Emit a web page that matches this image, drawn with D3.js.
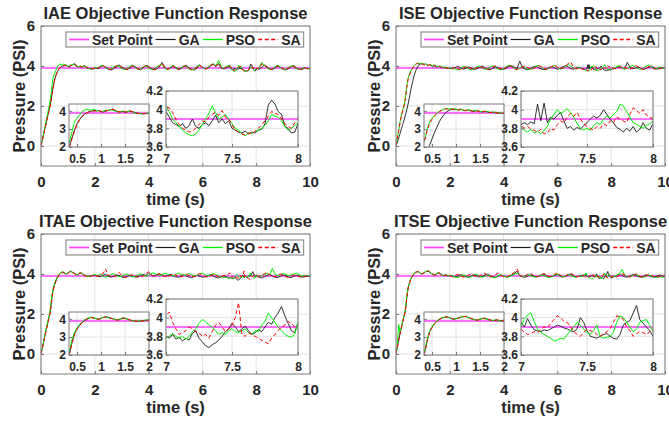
<!DOCTYPE html>
<html>
<head>
<meta charset="utf-8">
<script src="https://cdn.jsdelivr.net/npm/d3@7"></script>
<style>
body { margin: 0; background: #fff; }
svg { display: block; }
text { font-family: "Liberation Sans", Arial, Helvetica, sans-serif; font-weight: bold; fill: #262626; }
</style>
</head>
<body>
<div id="chart"></div>
<script>
//sample times: 0-2 s every 0.05, 2-7 s every 0.1, 7-8 s every 0.025, 8-10 s every 0.1
var time = [].concat(
  d3.range(0, 41).map(function(i) { return i * 0.05; }),
  d3.range(1, 50).map(function(i) { return 2 + i * 0.1; }),
  d3.range(0, 41).map(function(i) { return 7 + i * 0.025; }),
  d3.range(1, 21).map(function(i) { return 8 + i * 0.1; })
);

var setPoint = 3.9;
var titles = ["IAE Objective Function Response", "ISE Objective Function Response",
              "ITAE Objective Function Response", "ITSE Objective Function Response"];
var seriesNames = ["Set Point", "GA", "PSO", "SA"];

var mainXTicks = [0, 2, 4, 6, 8, 10];
var mainYTicks = [0, 2, 4, 6];
var zoom1XTicks = [0.5, 1, 1.5, 2];
var zoom1YTicks = [2, 3, 4];
var zoom2XTicks = [7, 7.5, 8];
var zoom2YTicks = [3.6, 3.8, 4, 4.2];

//---------------- IAE ----------------
var iaeGA = [
  0.00, 0.30, 0.60, 0.90, 1.20, 1.50, 1.80, 2.10, 2.55, 2.95,
  3.30, 3.52, 3.70, 3.82, 3.90, 3.97, 4.00, 4.03, 4.01, 4.04,
  3.98, 3.95, 4.00, 4.05, 4.08, 4.12, 4.03, 3.98, 3.95, 3.99,
  3.93, 3.97, 4.02, 3.98, 3.93, 3.90, 3.87, 3.85, 3.87, 3.86,
  3.90,
  3.86, 3.93, 4.02, 3.95, 3.85, 3.80, 3.86, 3.96, 4.06, 3.95,
  3.88, 3.82, 3.90, 3.99, 3.96, 3.86, 3.80, 3.90, 4.04, 3.97,
  3.88, 3.81, 3.85, 3.96, 4.18, 3.93, 3.84, 3.88, 3.98, 3.91,
  3.82, 3.86, 3.97, 4.02, 3.91, 3.83, 3.80, 3.90, 4.03, 3.95,
  3.85, 3.88, 4.00, 4.08, 3.97, 4.12, 3.90, 3.85, 3.92,
  3.98, 3.92, 3.86, 3.84, 3.82, 3.85, 3.80, 3.83, 3.90, 3.82,
  3.80, 3.84, 3.86, 3.83, 3.88, 3.94, 3.86, 3.90, 3.85, 3.88,
  3.80, 3.78, 3.76, 3.75, 3.77, 3.74, 3.76, 3.75, 3.78, 3.79,
  3.85, 4.05, 4.10, 4.06, 3.98, 3.95, 3.82, 3.80, 3.75, 3.76,
  3.85,
  3.85, 3.92, 4.05, 3.96, 3.86, 3.82, 3.90, 4.00, 3.94, 3.84,
  3.80, 3.87, 3.97, 4.02, 3.90, 3.84, 3.82, 3.90, 3.88, 3.86
];
var iaePSO = [
  0.00, 0.33, 0.66, 0.99, 1.32, 1.65, 1.98, 2.35, 2.90, 3.45,
  3.60, 3.78, 3.95, 4.05, 4.10, 4.08, 4.06, 4.10, 4.05, 4.02,
  3.97, 4.00, 4.06, 4.03, 4.10, 4.05, 4.00, 3.96, 3.94, 4.02,
  3.97, 3.95, 4.00, 3.95, 3.90, 3.86, 3.88, 3.84, 3.86, 3.88,
  3.92,
  3.90, 3.98, 4.05, 3.90, 3.83, 3.86, 3.95, 4.02, 3.97, 3.87,
  3.82, 3.88, 3.98, 4.05, 3.92, 3.84, 3.87, 3.96, 4.00, 3.90,
  3.83, 3.86, 3.95, 4.03, 4.10, 3.88, 3.82, 3.92, 4.03, 3.95,
  3.86, 3.90, 4.00, 3.96, 3.85, 3.80, 3.87, 3.98, 4.06, 3.92,
  3.86, 3.93, 4.04, 4.12, 4.00, 4.28, 3.95, 3.88, 3.98,
  4.04, 3.98, 3.90, 3.86, 3.82, 3.78, 3.75, 3.73, 3.72, 3.74,
  3.78, 3.84, 3.90, 3.96, 4.04, 3.97, 3.90, 3.92, 3.95, 3.90,
  3.85, 3.80, 3.78, 3.74, 3.72, 3.75, 3.74, 3.77, 3.78, 3.80,
  3.83, 3.88, 3.95, 3.93, 3.92, 3.88, 3.82, 3.78, 3.80, 3.83,
  3.86,
  3.88, 4.18, 4.02, 3.90, 3.83, 3.86, 3.96, 4.05, 3.92, 3.85,
  3.84, 3.92, 4.00, 3.95, 3.86, 3.82, 3.88, 3.93, 3.85, 3.88
];
var iaeSA = [
  0.00, 0.28, 0.58, 0.88, 1.18, 1.48, 1.78, 2.05, 2.50, 2.90,
  3.25, 3.50, 3.68, 3.80, 3.90, 3.96, 4.02, 4.00, 4.04, 4.02,
  3.97, 3.96, 4.02, 4.04, 4.07, 4.10, 4.02, 3.97, 3.96, 4.00,
  3.95, 3.96, 4.01, 3.97, 3.92, 3.88, 3.86, 3.86, 3.85, 3.87,
  3.90,
  3.88, 3.96, 4.04, 3.93, 3.84, 3.82, 3.90, 4.00, 4.04, 3.92,
  3.85, 3.84, 3.93, 4.02, 3.94, 3.85, 3.83, 3.93, 4.06, 3.95,
  3.85, 3.83, 3.88, 3.99, 4.14, 3.91, 3.83, 3.90, 4.01, 3.93,
  3.84, 3.88, 3.99, 4.00, 3.89, 3.82, 3.83, 3.94, 4.05, 3.94,
  3.84, 3.90, 4.02, 4.10, 3.98, 4.15, 3.93, 3.86, 3.95,
  4.03, 4.02, 3.97, 3.90, 3.84, 3.80, 3.78, 3.76, 3.77, 3.80,
  3.84, 3.88, 3.87, 3.92, 3.95, 3.97, 3.94, 3.99, 3.92, 3.90,
  3.84, 3.78, 3.76, 3.74, 3.73, 3.75, 3.74, 3.77, 3.80, 3.84,
  3.88, 3.93, 3.98, 3.96, 3.95, 3.90, 3.85, 3.82, 3.80, 3.86,
  3.90,
  3.86, 4.10, 4.08, 3.92, 3.84, 3.84, 3.93, 4.02, 3.93, 3.84,
  3.82, 3.90, 3.98, 3.98, 3.88, 3.83, 3.85, 3.92, 3.86, 3.87
];

//---------------- ISE ----------------
var iseGA = [
  0.00, 0.18, 0.40, 0.62, 0.85, 1.08, 1.30, 1.55, 1.80, 2.10,
  2.45, 2.80, 3.10, 3.40, 3.62, 3.82, 3.95, 4.04, 4.10, 4.12,
  4.10, 4.08, 4.12, 4.05, 4.02, 4.07, 4.03, 3.97, 4.01, 4.04,
  3.98, 3.95, 4.00, 3.96, 3.92, 3.95, 3.90, 3.93, 3.89, 3.87,
  3.90,
  3.86, 3.92, 3.98, 3.90, 3.84, 3.88, 3.95, 3.90, 3.83, 3.86,
  3.93, 3.99, 3.92, 3.85, 3.82, 3.88, 3.96, 3.92, 3.86, 3.83,
  3.90, 3.98, 4.02, 3.94, 3.87, 4.25, 3.92, 3.85, 3.82, 3.88,
  3.95, 3.99, 3.91, 3.85, 3.82, 3.86, 3.93, 3.97, 3.90, 3.84,
  3.88, 3.96, 4.02, 3.95, 3.86, 3.84, 3.90, 3.94, 3.88,
  3.84, 3.86, 3.84, 3.87, 3.85, 4.06, 3.88, 4.07, 3.86, 3.92,
  3.90, 3.94, 3.97, 3.88, 3.80, 3.82, 3.78, 3.81, 3.79, 3.83,
  3.86, 3.90, 3.93, 3.91, 3.94, 4.00, 3.95, 3.90, 3.86, 3.81,
  3.79, 3.76, 3.80, 3.77, 3.82, 3.76, 3.79, 3.86, 3.80, 3.78,
  3.85,
  3.86, 3.92, 3.97, 3.90, 3.84, 4.18, 3.92, 3.86, 3.90, 3.96,
  3.88, 3.83, 3.87, 3.94, 3.99, 3.90, 3.85, 3.88, 3.92, 3.87
];
var isePSO = [
  0.00, 0.40, 0.80, 1.20, 1.55, 1.80, 2.05, 2.45, 3.00, 3.40,
  3.60, 3.75, 3.88, 3.98, 4.06, 4.12, 4.15, 4.12, 4.14, 4.10,
  4.12, 4.08, 4.11, 4.06, 4.03, 4.08, 4.05, 4.00, 4.06, 4.02,
  3.96, 4.00, 3.95, 3.99, 3.94, 3.92, 3.96, 3.90, 3.92, 3.88,
  3.91,
  3.90, 3.85, 3.80, 3.88, 3.98, 3.93, 3.84, 3.80, 3.87, 3.96,
  4.00, 3.90, 3.83, 3.86, 3.95, 4.02, 3.92, 3.84, 3.80, 3.88,
  3.97, 4.05, 3.96, 3.88, 3.84, 3.90, 3.98, 3.93, 3.85, 3.82,
  3.90, 3.99, 4.04, 3.94, 3.86, 3.83, 3.90, 3.97, 4.02, 3.92,
  3.85, 3.88, 3.96, 4.08, 3.98, 3.90, 3.86, 3.92, 3.87,
  3.82, 3.78, 3.76, 3.79, 3.75, 3.77, 3.74, 3.78, 3.82, 3.90,
  3.95, 4.00, 3.96, 3.98, 4.01, 3.97, 3.92, 3.85, 3.80, 3.78,
  3.80, 3.78, 3.83, 3.86, 3.84, 3.90, 3.93, 3.91, 3.95, 3.98,
  4.06, 4.04, 3.98, 3.92, 3.86, 3.84, 3.82, 3.80, 3.83, 3.85,
  3.88,
  3.90, 3.96, 4.02, 3.92, 3.85, 3.88, 3.96, 4.04, 3.94, 3.86,
  3.84, 3.92, 3.99, 4.06, 3.93, 3.86, 3.88, 3.95, 3.90, 3.86
];
var iseSA = [
  0.00, 0.38, 0.76, 1.14, 1.50, 1.76, 2.00, 2.38, 2.92, 3.32,
  3.55, 3.72, 3.85, 3.96, 4.04, 4.10, 4.13, 4.10, 4.12, 4.09,
  4.10, 4.06, 4.09, 4.05, 4.04, 4.06, 4.03, 3.99, 4.03, 4.00,
  3.95, 3.98, 3.97, 3.97, 3.92, 3.93, 3.94, 3.89, 3.90, 3.87,
  3.89,
  3.88, 3.94, 3.86, 3.82, 3.90, 3.97, 3.92, 3.85, 3.82, 3.90,
  3.98, 3.94, 3.86, 3.82, 3.88, 3.96, 4.00, 3.90, 3.84, 3.86,
  3.94, 4.04, 3.95, 3.86, 3.82, 3.88, 3.96, 4.00, 3.91, 3.84,
  3.86, 3.94, 4.02, 3.96, 3.87, 3.82, 3.89, 3.98, 4.06, 3.93,
  3.86, 3.90, 4.00, 4.12, 4.20, 3.92, 3.85, 3.90, 3.86,
  3.83, 3.80, 3.82, 3.79, 3.78, 3.76, 3.79, 3.74, 3.75, 3.80,
  3.78, 3.84, 3.88, 3.86, 3.92, 3.96, 3.93, 3.97, 3.90, 3.85,
  3.82, 3.80, 3.78, 3.82, 3.80, 3.85, 3.83, 3.88, 3.86, 3.92,
  3.90, 3.88, 3.86, 3.95, 4.02, 3.99, 3.96, 4.00, 3.94, 3.92,
  3.90,
  3.88, 3.84, 3.92, 4.00, 3.94, 3.86, 3.84, 3.92, 4.02, 3.95,
  3.87, 3.83, 3.90, 3.98, 3.92, 3.85, 3.84, 3.90, 3.88, 3.85
];

//---------------- ITAE ----------------
var itaeGA = [
  0.00, 0.30, 0.62, 0.94, 1.25, 1.55, 1.85, 2.15, 2.75, 3.20,
  3.45, 3.65, 3.80, 3.92, 4.00, 4.06, 4.10, 4.07, 4.02, 4.00,
  4.04, 4.10, 4.14, 4.10, 4.06, 4.03, 3.98, 3.95, 4.00, 4.06,
  4.05, 4.00, 3.95, 3.92, 3.90, 3.88, 3.90, 3.89, 3.92, 3.94,
  3.95,
  3.90, 3.86, 3.94, 3.98, 3.90, 3.84, 3.88, 3.96, 3.92, 3.85,
  3.82, 3.88, 3.95, 3.90, 3.84, 3.86, 3.93, 3.98, 3.92, 4.05,
  3.95, 3.90, 3.97, 4.02, 3.94, 3.88, 3.92, 3.99, 3.93, 3.86,
  3.84, 3.90, 3.96, 3.91, 3.85, 3.82, 3.88, 3.94, 3.90, 3.84,
  3.86, 3.92, 3.97, 3.90, 3.83, 3.80, 3.86, 3.92, 3.85,
  3.80, 3.78, 3.82, 3.77, 3.79, 3.75, 3.78, 3.76, 3.83, 3.86,
  3.78, 3.74, 3.70, 3.68, 3.71, 3.73, 3.76, 3.80, 3.85, 3.88,
  3.94, 3.90, 3.85, 3.88, 3.91, 3.86, 3.82, 3.84, 3.87, 3.85,
  3.90, 3.95, 3.93, 4.00, 4.05, 4.12, 4.02, 3.94, 3.86, 3.84,
  3.95,
  3.84, 3.80, 3.86, 3.93, 3.98, 3.90, 3.84, 3.82, 3.88, 3.95,
  3.92, 3.85, 3.82, 3.88, 3.94, 3.90, 3.84, 3.86, 3.90, 3.88
];
var itaePSO = [
  0.00, 0.32, 0.66, 1.00, 1.32, 1.62, 1.92, 2.30, 2.90, 3.28,
  3.50, 3.70, 3.84, 3.95, 4.02, 4.08, 4.11, 4.08, 4.03, 4.01,
  4.05, 4.11, 4.13, 4.09, 4.05, 4.02, 3.97, 3.96, 4.02, 4.07,
  4.04, 3.98, 3.94, 3.91, 3.89, 3.88, 3.91, 3.90, 3.93, 3.96,
  3.97,
  3.92, 3.98, 3.90, 3.84, 3.88, 3.97, 4.02, 3.93, 3.86, 3.90,
  3.96, 4.00, 3.91, 3.85, 3.88, 3.95, 4.01, 3.94, 3.88, 3.92,
  4.02, 4.06, 3.98, 3.92, 3.96, 4.03, 4.00, 3.93, 3.90, 3.97,
  4.04, 3.98, 3.92, 3.95, 4.02, 3.96, 3.90, 3.93, 4.00, 4.05,
  3.96, 3.91, 3.95, 4.02, 3.97, 3.90, 3.86, 3.84, 3.82,
  3.78, 3.80, 3.83, 3.80, 3.78, 3.80, 3.77, 3.80, 3.85, 3.88,
  3.94, 3.98, 3.96, 3.92, 3.90, 3.86, 3.82, 3.84, 3.82, 3.86,
  3.88, 3.85, 3.84, 3.86, 3.88, 3.84, 3.82, 3.86, 3.85, 3.92,
  3.96, 4.05, 4.00, 3.95, 3.90, 3.86, 3.82, 3.80, 3.79, 3.82,
  3.95,
  3.86, 3.92, 3.98, 4.02, 3.95, 4.28, 4.00, 3.92, 3.96, 4.02,
  3.98, 3.92, 3.95, 4.00, 4.04, 3.96, 3.90, 3.94, 3.92, 3.90
];
var itaeSA = [
  0.00, 0.29, 0.60, 0.92, 1.22, 1.52, 1.82, 2.12, 2.70, 3.15,
  3.42, 3.63, 3.79, 3.91, 3.99, 4.05, 4.09, 4.06, 4.02, 3.99,
  4.03, 4.09, 4.13, 4.11, 4.05, 4.02, 3.97, 3.94, 3.99, 4.05,
  4.05, 4.01, 3.96, 3.91, 3.89, 3.87, 3.89, 3.90, 3.91, 3.93,
  3.94,
  3.88, 3.94, 4.02, 4.25, 3.95, 3.86, 3.84, 3.92, 4.08, 3.94,
  3.86, 3.83, 3.90, 3.98, 3.92, 3.85, 3.84, 3.92, 4.00, 4.12,
  3.96, 3.88, 3.92, 4.00, 3.95, 3.88, 3.86, 3.93, 4.02, 3.96,
  3.88, 3.85, 3.92, 3.98, 3.92, 3.86, 3.88, 3.95, 4.02, 3.94,
  3.87, 3.84, 3.90, 3.98, 3.93, 3.86, 3.84, 3.92, 3.96,
  4.02, 4.06, 3.95, 3.88, 3.82, 3.84, 3.86, 3.90, 3.88, 3.85,
  3.84, 3.80, 3.82, 3.78, 3.85, 3.92, 3.95, 3.90, 3.85, 3.88,
  3.92, 4.00, 4.16, 3.82, 3.80, 3.84, 3.82, 3.80, 3.78, 3.76,
  3.74, 3.72, 3.78, 3.82, 3.86, 3.90, 3.92, 3.96, 3.94, 3.90,
  3.90,
  3.88, 3.94, 4.00, 4.10, 3.95, 3.88, 3.86, 3.94, 4.00, 3.93,
  3.86, 3.84, 3.90, 3.96, 3.92, 3.86, 3.84, 3.88, 3.92, 3.86
];

//---------------- ITSE ----------------
var itseGA = [
  0.00, 0.35, 0.70, 1.02, 1.33, 1.62, 1.90, 2.18, 2.80, 3.30,
  3.55, 3.75, 3.88, 3.98, 4.06, 4.10, 4.12, 4.10, 4.04, 4.00,
  4.02, 4.07, 4.11, 4.14, 4.15, 4.10, 4.05, 4.00, 3.96, 3.95,
  3.99, 4.04, 4.05, 4.00, 3.96, 3.92, 3.93, 3.95, 3.92, 3.90,
  3.92,
  3.88, 3.84, 3.90, 3.97, 3.92, 3.86, 3.84, 3.90, 3.96, 3.91,
  3.85, 3.88, 3.95, 3.99, 3.92, 3.86, 3.83, 3.89, 3.95, 3.90,
  3.85, 3.88, 3.96, 4.02, 4.14, 3.93, 3.86, 3.84, 3.90, 3.96,
  3.92, 3.86, 3.89, 3.95, 4.00, 3.92, 3.85, 3.87, 3.93, 3.97,
  3.90, 3.84, 3.88, 3.95, 3.99, 3.91, 3.86, 3.89, 3.93,
  3.95, 3.90, 3.99, 3.92, 3.87, 3.86, 3.85, 3.87, 3.86, 3.88,
  3.90, 3.92, 3.91, 3.89, 3.88, 3.86, 3.85, 3.88, 4.00, 3.95,
  3.86, 3.80, 3.79, 3.78, 3.80, 3.82, 3.83, 3.80, 3.78, 3.77,
  3.82, 3.92, 3.95, 3.97, 4.05, 4.13, 3.98, 3.94, 3.90, 3.86,
  3.80,
  3.86, 3.92, 3.98, 3.93, 3.86, 3.84, 3.90, 3.97, 3.94, 3.87,
  3.84, 3.89, 3.96, 3.92, 3.86, 3.84, 3.90, 3.95, 3.90, 3.88
];
var itsePSO = [
  0.00, 0.40, 1.48, 1.05, 1.35, 1.65, 1.93, 2.24, 2.86, 3.34,
  3.57, 3.77, 3.90, 3.99, 4.07, 4.11, 4.13, 4.09, 4.03, 4.01,
  4.03, 4.08, 4.12, 4.15, 4.14, 4.09, 4.04, 3.99, 3.95, 3.96,
  4.01, 4.05, 4.03, 3.98, 3.95, 3.93, 3.94, 3.96, 3.91, 3.89,
  3.93,
  3.92, 3.86, 3.82, 3.88, 3.95, 3.90, 3.83, 3.86, 3.94, 3.98,
  3.90, 3.84, 3.87, 3.93, 3.89, 3.82, 3.85, 3.92, 3.97, 3.90,
  3.84, 3.86, 3.92, 3.98, 4.05, 3.94, 3.88, 3.90, 3.96, 3.92,
  3.86, 3.84, 3.90, 3.96, 3.92, 3.85, 3.82, 3.88, 3.95, 4.00,
  3.92, 3.86, 3.90, 3.97, 3.93, 3.86, 3.84, 3.90, 3.88,
  3.90, 3.98, 4.03, 4.05, 3.96, 3.88, 3.84, 3.82, 3.80, 3.78,
  3.75, 3.76, 3.78, 3.77, 3.82, 3.86, 3.90, 3.95, 3.92, 3.88,
  3.84, 3.82, 3.86, 3.92, 3.80, 3.78, 3.79, 3.80, 3.84, 3.95,
  4.02, 4.00, 3.95, 3.90, 3.85, 3.88, 3.95, 3.97, 3.98, 3.92,
  3.85,
  3.88, 3.94, 4.00, 4.22, 3.96, 3.88, 3.86, 3.92, 3.98, 3.93,
  3.86, 3.83, 3.88, 3.94, 3.90, 3.84, 3.82, 3.86, 3.84, 3.86
];
var itseSA = [
  0.00, 0.33, 0.68, 1.00, 1.30, 1.60, 1.88, 2.15, 2.76, 3.28,
  3.52, 3.74, 3.87, 3.97, 4.05, 4.09, 4.12, 4.11, 4.05, 4.01,
  4.03, 4.06, 4.10, 4.13, 4.16, 4.11, 4.06, 4.01, 3.97, 3.94,
  3.98, 4.03, 4.06, 4.01, 3.97, 3.93, 3.92, 3.96, 3.93, 3.91,
  3.94,
  3.86, 3.93, 3.99, 3.90, 3.84, 3.87, 3.95, 4.02, 3.93, 3.86,
  3.90, 3.98, 4.04, 3.92, 3.85, 3.88, 3.97, 4.05, 3.94, 3.86,
  3.84, 3.92, 4.00, 4.08, 4.25, 3.95, 3.86, 3.90, 3.99, 4.04,
  3.93, 3.85, 3.88, 3.96, 4.02, 3.94, 3.86, 3.90, 3.98, 4.06,
  3.95, 3.87, 3.90, 3.98, 4.03, 3.94, 3.86, 3.88, 3.94,
  3.88, 3.84, 3.82, 3.83, 3.85, 3.84, 3.87, 3.90, 3.89, 3.94,
  3.98, 4.02, 4.00, 3.96, 3.95, 3.90, 3.85, 3.82, 3.80, 3.84,
  3.88, 3.86, 3.85, 3.82, 3.80, 3.83, 3.85, 3.88, 3.95, 4.02,
  4.01, 3.98, 3.90, 3.86, 3.80, 3.83, 3.85, 3.84, 3.82, 3.85,
  3.88,
  3.90, 3.86, 3.93, 4.02, 3.95, 3.87, 3.85, 3.92, 4.00, 3.94,
  3.86, 3.84, 3.90, 3.98, 3.93, 3.86, 3.84, 3.88, 3.92, 3.88
];

//panel setup (column, row) and the series belonging to each
var panels = [
  {title: titles[0], col: 0, row: 0, ga: iaeGA,  pso: iaePSO,  sa: iaeSA},
  {title: titles[1], col: 1, row: 0, ga: iseGA,  pso: isePSO,  sa: iseSA},
  {title: titles[2], col: 0, row: 1, ga: itaeGA, pso: itaePSO, sa: itaeSA},
  {title: titles[3], col: 1, row: 1, ga: itseGA, pso: itsePSO, sa: itseSA}
];

//line styles for Set Point, GA, PSO, SA
var lineStyles = [
  {color: "#ff40ff", width: 1.4, dash: null},
  {color: "#1a1a1a", width: 0.9, dash: null},
  {color: "#00ee00", width: 1,   dash: null},
  {color: "#ff0000", width: 1,   dash: "4,2.5"}
];

var svg = d3.select("#chart")
  .append("svg")
  .attr("width", 669)
  .attr("height", 422);

var defs = svg.append("defs");
var clipCount = 0;

//draws one set of axes (main plot or inset) with its grid, lines and tick labels
function drawAxes(g, o, p) {
  var x = d3.scaleLinear().domain(o.xDomain).range([o.x, o.x + o.w]);
  var y = d3.scaleLinear().domain(o.yDomain).range([o.y + o.h, o.y]);

  g.append("rect")
    .attr("x", o.x).attr("y", o.y)
    .attr("width", o.w).attr("height", o.h)
    .style("fill", "#fff");

  //grid
  g.selectAll(null).data(o.xTicks).enter().append("line")
    .attr("x1", function(d) { return x(d); }).attr("x2", function(d) { return x(d); })
    .attr("y1", o.y).attr("y2", o.y + o.h)
    .style("stroke", "#e2e2e2").style("stroke-width", 1);
  g.selectAll(null).data(o.yTicks).enter().append("line")
    .attr("x1", o.x).attr("x2", o.x + o.w)
    .attr("y1", function(d) { return y(d); }).attr("y2", function(d) { return y(d); })
    .style("stroke", "#e2e2e2").style("stroke-width", 1);

  var clipId = "clip" + (clipCount++);
  defs.append("clipPath").attr("id", clipId)
    .append("rect")
    .attr("x", o.x).attr("y", o.y)
    .attr("width", o.w).attr("height", o.h);

  var line = d3.line()
    .x(function(d) { return x(d[0]); })
    .y(function(d) { return y(d[1]); });

  var lineData = [
    [[o.xDomain[0], setPoint], [o.xDomain[1], setPoint]],
    d3.zip(time, p.ga),
    d3.zip(time, p.pso),
    d3.zip(time, p.sa)
  ];

  var plot = g.append("g").attr("clip-path", "url(#" + clipId + ")");
  lineData.forEach(function(ld, i) {
    plot.append("path")
      .datum(ld)
      .attr("d", line)
      .style("fill", "none")
      .style("stroke", lineStyles[i].color)
      .style("stroke-width", lineStyles[i].width)
      .style("stroke-dasharray", lineStyles[i].dash)
      .style("stroke-linejoin", "round");
  });

  //tick labels (font size set after the axis call, which resets it)
  var fmt = d3.format("~g");
  var xAxis = g.append("g")
    .attr("transform", "translate(0," + (o.y + o.h) + ")")
    .call(d3.axisBottom(x).tickValues(o.xTicks).tickSize(-3).tickPadding(o.xPad).tickFormat(fmt))
    .attr("color", "#7a7a7a")
    .attr("font-size", o.font);
  xAxis.select(".domain").remove();

  var yAxis = g.append("g")
    .attr("transform", "translate(" + o.x + ",0)")
    .call(d3.axisLeft(y).tickValues(o.yTicks).tickSize(-3).tickPadding(o.yPad).tickFormat(fmt))
    .attr("color", "#7a7a7a")
    .attr("font-size", o.font);
  yAxis.select(".domain").remove();

  //box
  g.append("rect")
    .attr("x", o.x).attr("y", o.y)
    .attr("width", o.w).attr("height", o.h)
    .style("fill", "none")
    .style("stroke", "#7a7a7a")
    .style("stroke-width", 1);
}

panels.forEach(function(p) {
  var left = 41 + 355 * p.col,
      top = 26 + 208 * p.row,
      width = 269,
      height = 140;
  var g = svg.append("g");

  //main plot
  drawAxes(g, {
    x: left, y: top, w: width, h: height,
    xDomain: [0, 10], yDomain: [-1, 6],
    xTicks: mainXTicks, yTicks: mainYTicks,
    font: 15, xPad: 10, yPad: 6
  }, p);

  //title and axis labels
  g.append("text")
    .attr("x", left + width / 2).attr("y", top - 7)
    .attr("text-anchor", "middle")
    .style("font-size", "16.5px")
    .text(p.title);
  g.append("text")
    .attr("x", left + width / 2).attr("y", top + height + 39)
    .attr("text-anchor", "middle")
    .style("font-size", "16.5px")
    .text("time (s)");
  g.append("text")
    .attr("transform", "translate(" + (left - 16) + "," + (top + height / 2) + ") rotate(-90)")
    .attr("text-anchor", "middle")
    .style("font-size", "16.5px")
    .text("Pressure (PSI)");

  //legend
  var lx = left + 25, ly = top + 6, lh = 15;
  var legend = g.append("g");
  var legendBox = legend.append("rect")
    .attr("x", lx).attr("y", ly).attr("height", lh)
    .style("fill", "#fff").style("stroke", "#7a7a7a").style("stroke-width", 1);
  var cx = lx + 3;
  seriesNames.forEach(function(name, i) {
    legend.append("line")
      .attr("x1", cx).attr("x2", cx + 20)
      .attr("y1", ly + lh / 2).attr("y2", ly + lh / 2)
      .style("stroke", lineStyles[i].color)
      .style("stroke-width", lineStyles[i].width + 0.3)
      .style("stroke-dasharray", lineStyles[i].dash);
    var t = legend.append("text")
      .attr("x", cx + 23).attr("y", ly + lh / 2 + 5)
      .style("font-size", "14px")
      .text(name);
    cx += 23 + t.node().getComputedTextLength() + 3;
  });
  legendBox.attr("width", cx - lx);

  //inset: start of the response
  drawAxes(g, {
    x: left + 28, y: top + 78, w: 80, h: 43,
    xDomain: [1 / 3, 2], yDomain: [2, 4.4],
    xTicks: zoom1XTicks, yTicks: zoom1YTicks,
    font: 12, xPad: 7, yPad: 3
  }, p);

  //inset: 7 to 8 seconds
  drawAxes(g, {
    x: left + 125, y: top + 65, w: 132, h: 56,
    xDomain: [7, 8], yDomain: [3.6, 4.2],
    xTicks: zoom2XTicks, yTicks: zoom2YTicks,
    font: 12, xPad: 7, yPad: 3
  }, p);
});
</script>
</body>
</html>
